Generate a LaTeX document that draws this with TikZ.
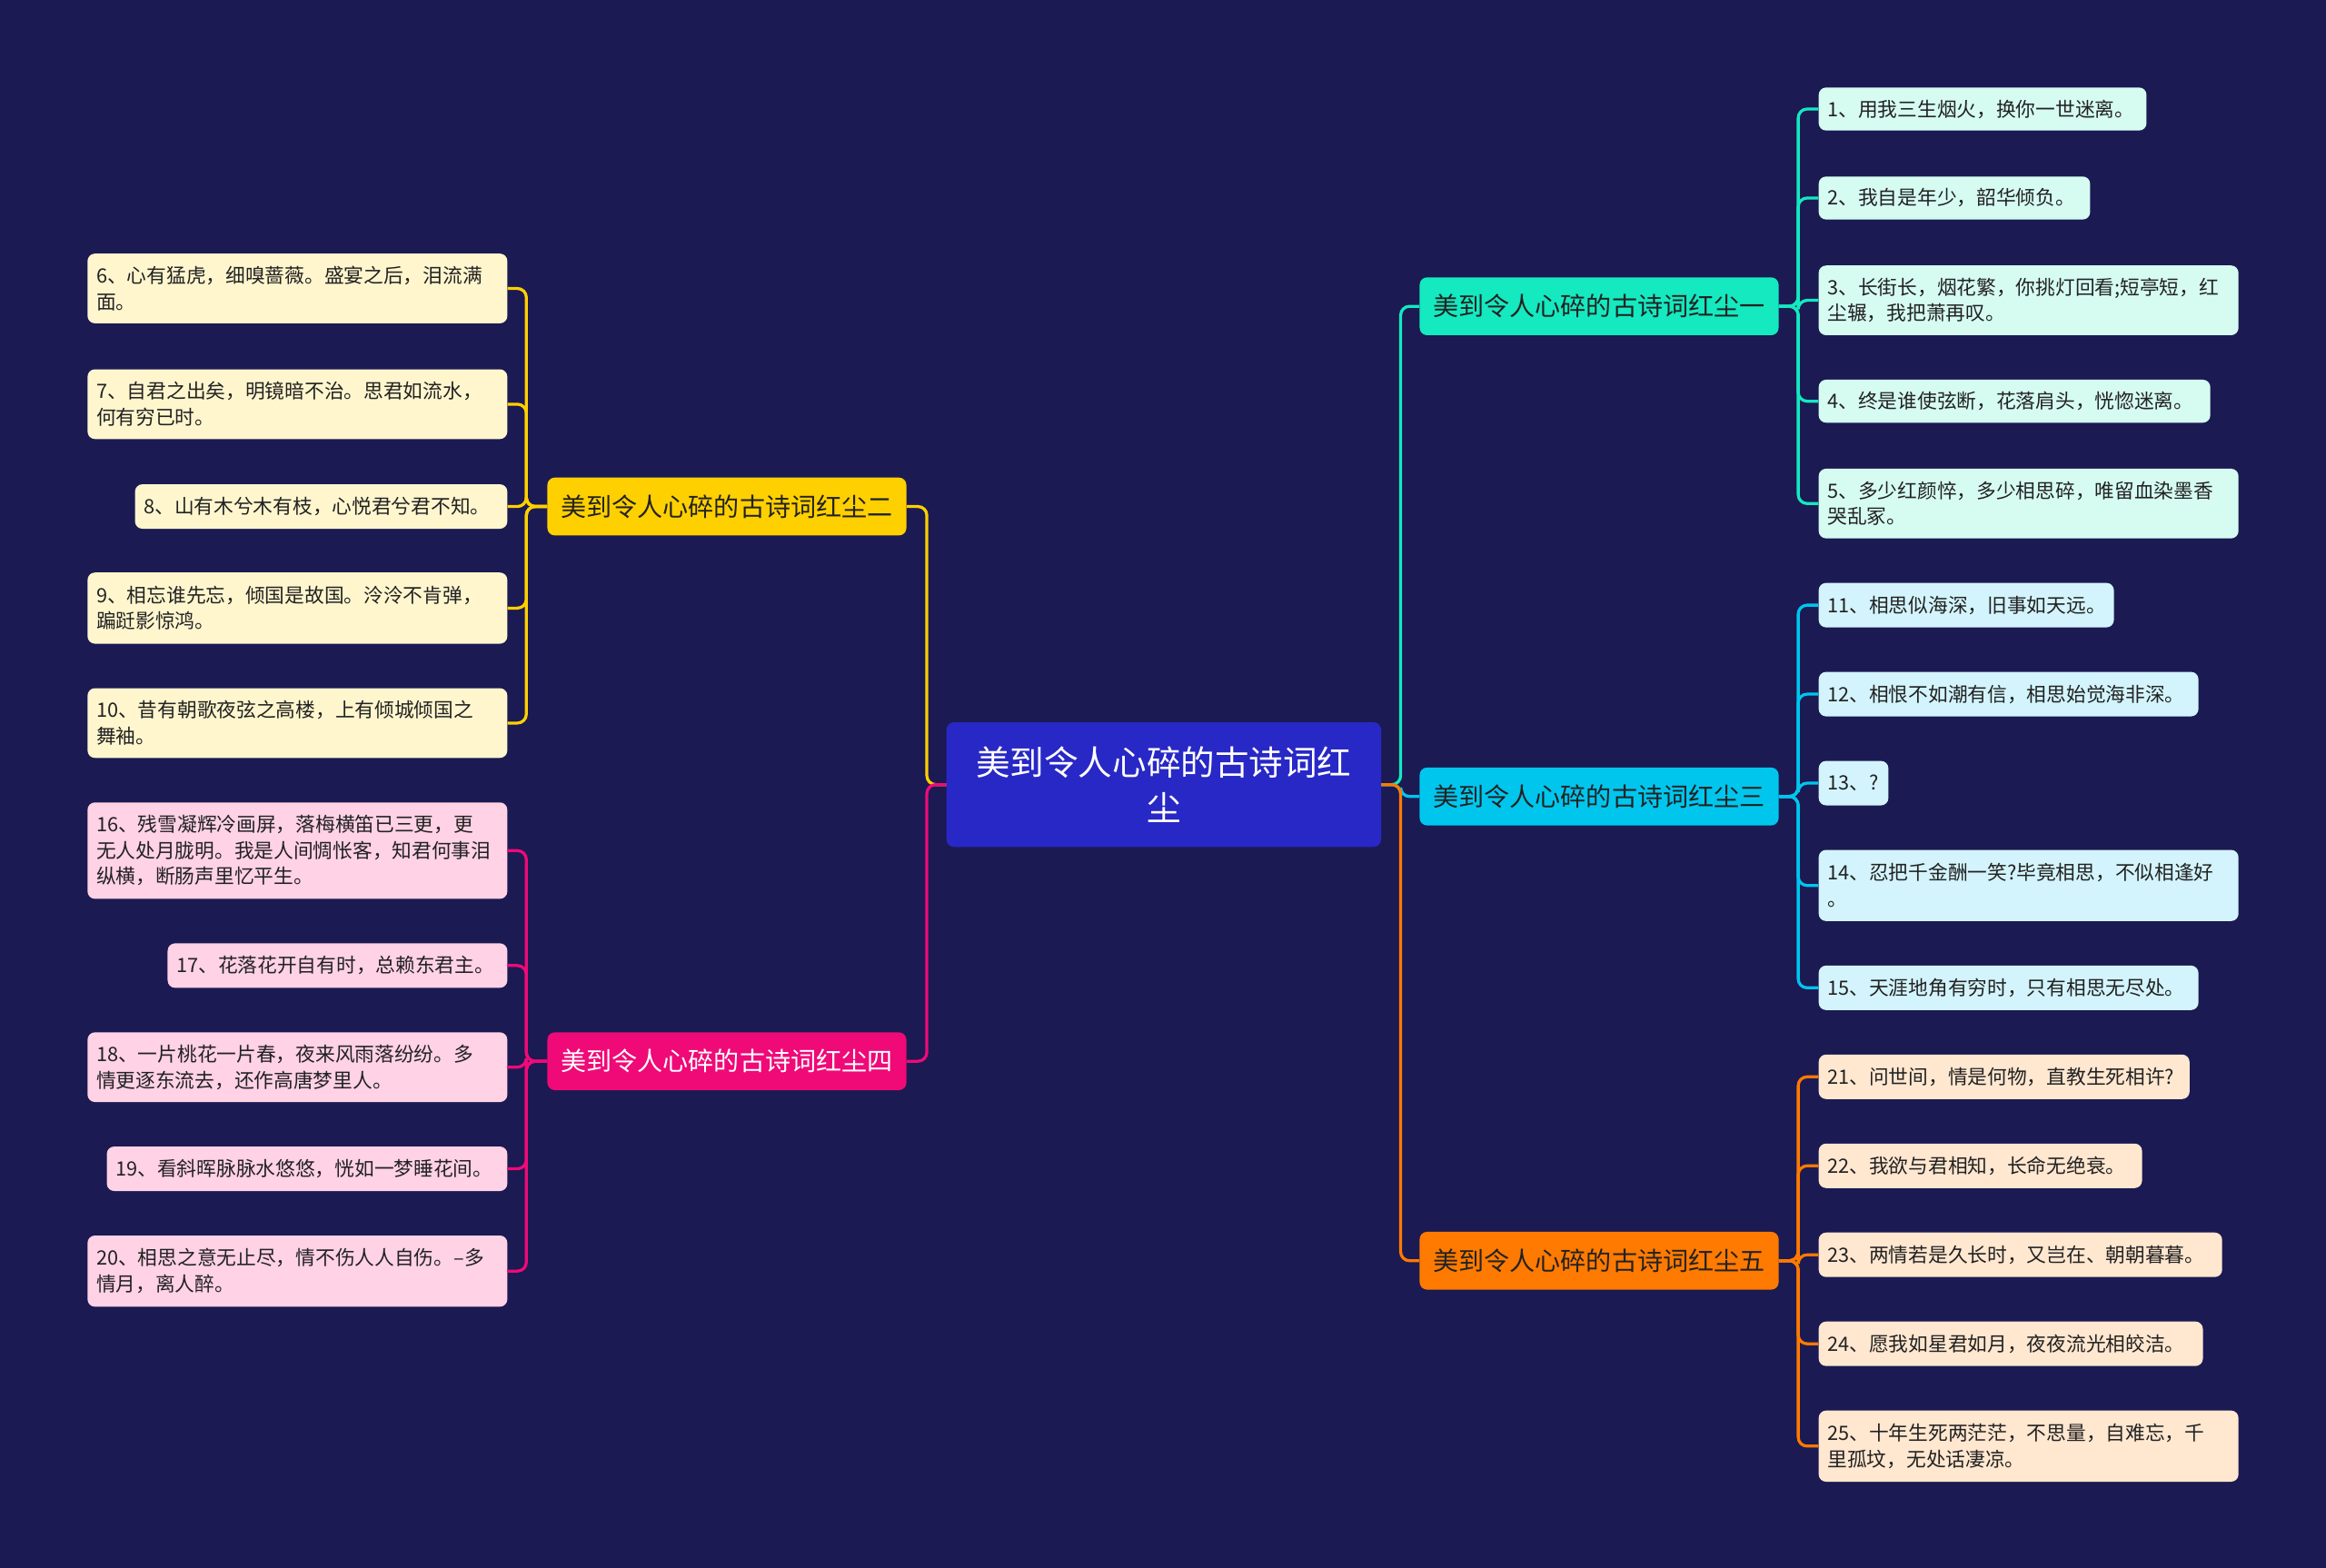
\documentclass[tikz,border=0pt]{standalone}
\usepackage{fontspec}
\setmainfont{Noto Sans CJK SC}
\definecolor{bgc}{HTML}{1B1A52}
\definecolor{rootc}{HTML}{2828C6}
\definecolor{tealc}{HTML}{14E9C0}
\definecolor{cyanc}{HTML}{00C6EE}
\definecolor{orangec}{HTML}{FF7A00}
\definecolor{yellowc}{HTML}{FFD000}
\definecolor{pinkc}{HTML}{EF0A78}
\definecolor{tealL}{HTML}{D6FCF2}
\definecolor{cyanL}{HTML}{D3F4FC}
\definecolor{orangeL}{HTML}{FFE7D0}
\definecolor{yellowL}{HTML}{FFF6CE}
\definecolor{pinkL}{HTML}{FFD2E5}
\definecolor{txt}{HTML}{222222}
\tikzset{
  leaf/.style 2 args={rounded corners=5pt, inner xsep=6pt, inner ysep=2pt, text width=#1, minimum height=#2, align=left, text=txt, font=\fontsize{13.3}{17.5}\selectfont},
  lA/.style={fill=tealL}, lC/.style={fill=cyanL}, lO/.style={fill=orangeL}, lY/.style={fill=yellowL}, lP/.style={fill=pinkL},
  branch/.style={rounded corners=5pt, minimum width=242pt, minimum height=39pt, inner sep=0pt, font=\fontsize{17.2}{20}\selectfont},
  conn/.style={line width=2pt, rounded corners=6pt},
}
\begin{document}
\begin{tikzpicture}[x=1pt,y=-1pt]
\useasboundingbox (0,0) rectangle (1568,1056.6);
\fill[bgc] (-3,-3) rectangle (1571,1060);

% root
\node[fill=rootc, rounded corners=5pt, minimum width=293pt, minimum height=84pt, text=white, align=center, font=\fontsize{23}{31}\selectfont] (root) at (784.5,529) {美到令人心碎的古诗词红\\尘};

% branches
\node[branch, fill=tealc, text=txt] (b1) at (1078,206.5) {美到令人心碎的古诗词红尘一};
\node[branch, fill=cyanc, text=txt] (b3) at (1078,537) {美到令人心碎的古诗词红尘三};
\node[branch, fill=orangec, text=txt] (b5) at (1078,850) {美到令人心碎的古诗词红尘五};
\node[branch, fill=yellowc, text=txt] (b2) at (490,341.5) {美到令人心碎的古诗词红尘二};
\node[branch, fill=pinkc, text=white] (b4) at (490,715.5) {美到令人心碎的古诗词红尘四};

% leaves group 1
\node[leaf={209pt}{29pt}, lA] (l1) at (1336.5,73.5) {1、用我三生烟火，换你一世迷离。};
\node[leaf={171pt}{29pt}, lA] (l2) at (1317.5,133.5) {2、我自是年少，韶华倾负。};
\node[leaf={271pt}{47pt}, lA] (l3) at (1367.5,202.5) {3、长街长，烟花繁，你挑灯回看;短亭短，红\\尘辗，我把萧再叹。};
\node[leaf={252pt}{29pt}, lA] (l4) at (1358,270.5) {4、终是谁使弦断，花落肩头，恍惚迷离。};
\node[leaf={271pt}{47pt}, lA] (l5) at (1367.5,339.5) {5、多少红颜悴，多少相思碎，唯留血染墨香\\哭乱冢。};

% leaves group 3
\node[leaf={187pt}{30pt}, lC] (l11) at (1325.5,408) {11、相思似海深，旧事如天远。};
\node[leaf={244pt}{30pt}, lC] (l12) at (1354,468) {12、相恨不如潮有信，相思始觉海非深。};
\node[leaf={35pt}{30pt}, lC] (l13) at (1249.5,528) {13、?};
\node[leaf={271pt}{48pt}, lC] (l14) at (1367.5,597) {14、忍把千金酬一笑?毕竟相思，不似相逢好\\。};
\node[leaf={244pt}{30pt}, lC] (l15) at (1354,666) {15、天涯地角有穷时，只有相思无尽处。};

% leaves group 5
\node[leaf={238pt}{30pt}, lO] (l21) at (1351,726) {21、问世间，情是何物，直教生死相许?};
\node[leaf={206pt}{30pt}, lO] (l22) at (1335,786) {22、我欲与君相知，长命无绝衰。};
\node[leaf={260pt}{30pt}, lO] (l23) at (1362,846) {23、两情若是久长时，又岂在、朝朝暮暮。};
\node[leaf={247pt}{30pt}, lO] (l24) at (1355.5,906) {24、愿我如星君如月，夜夜流光相皎洁。};
\node[leaf={271pt}{48pt}, lO] (l25) at (1367.5,975) {25、十年生死两茫茫，不思量，自难忘，千\\里孤坟，无处话凄凉。};

% leaves group 2
\node[leaf={271pt}{47pt}, lY] (l6) at (200.5,194.5) {6、心有猛虎，细嗅蔷薇。盛宴之后，泪流满\\面。};
\node[leaf={271pt}{47pt}, lY] (l7) at (200.5,272.5) {7、自君之出矣，明镜暗不治。思君如流水，\\何有穷已时。};
\node[leaf={239pt}{30pt}, lY] (l8) at (216.5,341.5) {8、山有木兮木有枝，心悦君兮君不知。};
\node[leaf={271pt}{48pt}, lY] (l9) at (200.5,410) {9、相忘谁先忘，倾国是故国。泠泠不肯弹，\\蹁跹影惊鸿。};
\node[leaf={271pt}{47pt}, lY] (l10) at (200.5,487.5) {10、昔有朝歌夜弦之高楼，上有倾城倾国之\\舞袖。};

% leaves group 4
\node[leaf={271pt}{65pt}, lP] (l16) at (200.5,573.5) {16、残雪凝辉冷画屏，落梅横笛已三更，更\\无人处月胧明。我是人间惆怅客，知君何事泪\\纵横，断肠声里忆平生。};
\node[leaf={217pt}{30pt}, lP] (l17) at (227.5,651) {17、花落花开自有时，总赖东君主。};
\node[leaf={271pt}{47pt}, lP] (l18) at (200.5,719.5) {18、一片桃花一片春，夜来风雨落纷纷。多\\情更逐东流去，还作高唐梦里人。};
\node[leaf={258pt}{30pt}, lP] (l19) at (207,788) {19、看斜晖脉脉水悠悠，恍如一梦睡花间。};
\node[leaf={271pt}{48pt}, lP] (l20) at (200.5,857) {20、相思之意无止尽，情不伤人人自伤。–多\\情月，离人醉。};

% root to branches
\draw[conn, tealc] (root.east) -- ++(13,0) |- (b1.west);
\draw[conn, cyanc] (root.east) -- ++(13,0) |- (b3.west);
\draw[conn, orangec] (root.east) -- ++(13,0) |- (b5.west);
\draw[conn, yellowc] (root.west) -- ++(-13,0) |- (b2.east);
\draw[conn, pinkc] (root.west) -- ++(-13,0) |- (b4.east);

% branches to leaves
\foreach \l in {l1,l2,l3,l4,l5} \draw[conn, tealc] (b1.east) -- ++(13,0) |- (\l.west);
\foreach \l in {l11,l12,l13,l14,l15} \draw[conn, cyanc] (b3.east) -- ++(13,0) |- (\l.west);
\foreach \l in {l21,l22,l23,l24,l25} \draw[conn, orangec] (b5.east) -- ++(13,0) |- (\l.west);
\foreach \l in {l6,l7,l8,l9,l10} \draw[conn, yellowc] (b2.west) -- ++(-14,0) |- (\l.east);
\foreach \l in {l16,l17,l18,l19,l20} \draw[conn, pinkc] (b4.west) -- ++(-14,0) |- (\l.east);
\end{tikzpicture}
\end{document}
